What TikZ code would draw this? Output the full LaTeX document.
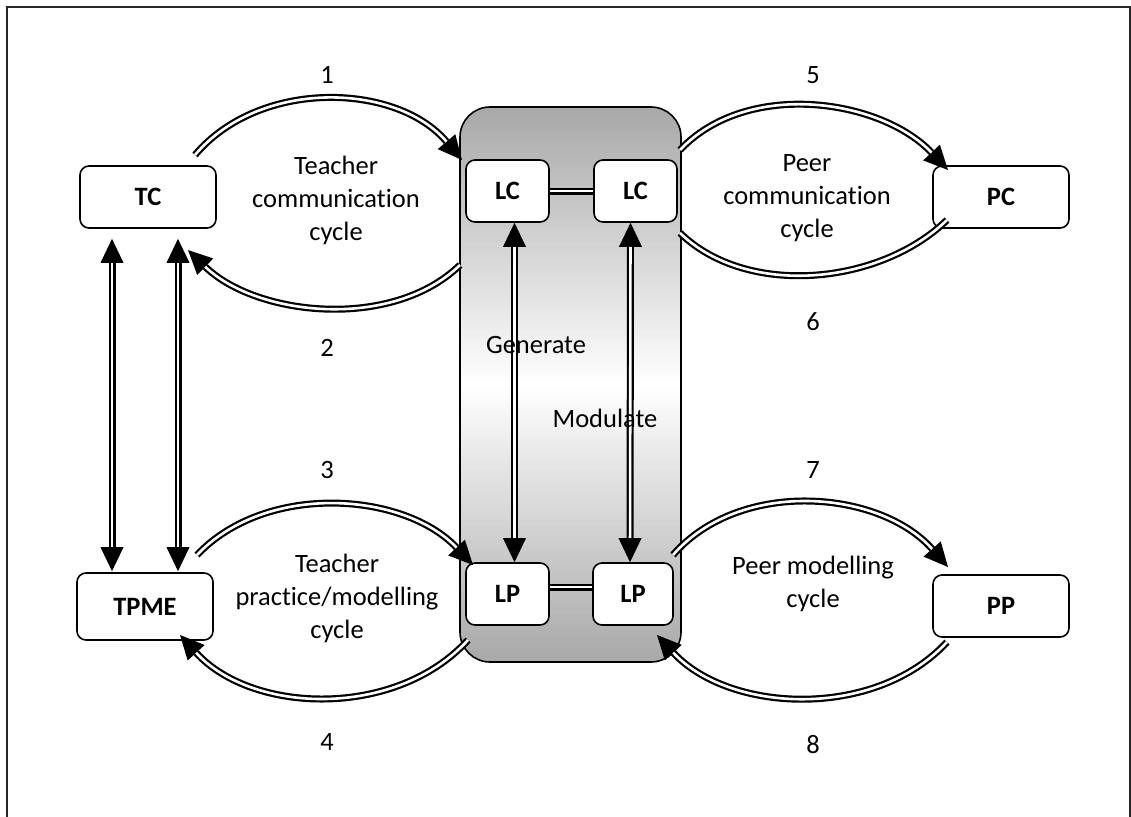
\documentclass[tikz,border=0pt]{standalone}
\usepackage{fontspec}
\setmainfont[Ligatures=NoCommon]{Carlito}
\usetikzlibrary{arrows.meta}
\newcommand\dblTip{Triangle[width=23pt,length=24pt,line width=0pt]}
\newcommand\connA[1]{\draw[dout,-{\dblTip}] #1; \draw[din,shorten >=24pt] #1;}
\newcommand\connB[1]{\draw[dout,{\dblTip}-{\dblTip}] #1; \draw[din,shorten >=24pt,shorten <=24pt] #1;}
\newcommand\connN[1]{\draw[dout] #1; \draw[din] #1;}
\begin{document}
\begin{tikzpicture}[x=1pt,y=-1pt,
  box/.style={draw, line width=1.6pt, rounded corners=9pt, fill=white,
    minimum width=136pt, minimum height=62pt, inner sep=0pt,
    font=\fontsize{26.5}{30}\selectfont\bfseries},
  sbox/.style={box, minimum width=83pt},
  lbl/.style={font=\fontsize{26.5}{33}\selectfont, align=center, inner sep=0pt},
  dout/.style={line width=7pt, draw=black},
  din/.style={line width=2.6pt, draw=white}]
\useasboundingbox (0,0) rectangle (1131,816);
\draw[line width=2.2pt, black!85] (7,7) rectangle (1130,830);

% learner block
\node[draw, line width=1.6pt, rounded corners=30pt, minimum width=221pt, minimum height=555pt,
  top color=black!34, bottom color=black!34, middle color=white, inner sep=0pt] (LB) at (570.5,384.5) {};

% nodes
\node[box] (TC) at (148,197) {TC};
\node[box, minimum height=67pt] (TPME) at (145,606.5) {TPME};
\node[box] (PC) at (1001,197) {PC};
\node[box] (PP) at (1001,606) {PP};
\node[sbox] (LC1) at (507.5,191) {LC};
\node[sbox] (LC2) at (635.5,191) {LC};
\node[sbox] (LP1) at (507.5,594) {LP};
\node[sbox, minimum width=80pt] (LP2) at (633,594) {LP};

% free ends of cycle connectors
\coordinate (a1s) at (195,155);  \coordinate (a1e) at (462,160);
\coordinate (a2s) at (460,265);  \coordinate (a2e) at (188,250);
\coordinate (a3s) at (197,555);  \coordinate (a3e) at (473,565);
\coordinate (a4s) at (468,640);  \coordinate (a4e) at (180,635);
\coordinate (a5s) at (680,150);  \coordinate (a5e) at (948,170);
\coordinate (a6s) at (947,220);  \coordinate (a6e) at (680,233);
\coordinate (a7s) at (673,555);  \coordinate (a7e) at (948,567);
\coordinate (a8s) at (947,642);  \coordinate (a8e) at (657,635);

% cycles
\connA{(a1s) .. controls (260,78) and (397,83) .. (a1e)}
\connA{(a2s) .. controls (392,331) and (256,316) .. (a2e)}
\connA{(a3s) .. controls (266,482) and (404,492) .. (a3e)}
\connA{(a4s) .. controls (396,719) and (252,714) .. (a4e)}
\connA{(a5s) .. controls (747,79) and (881,99) .. (a5e)}
\connN{(a6s) .. controls (880,285) and (747,298) .. (a6e)}
\connA{(a7s) .. controls (740,478) and (880,490) .. (a7e)}
\connA{(a8s) .. controls (875,720) and (729,713) .. (a8e)}

% links between learner boxes
\connN{(LC1.east) -- (LC2.west)}
\connN{([yshift=7pt]LP1.east) -- ([yshift=7pt]LP2.west)}
\connB{([xshift=7pt]LC1.south) -- ([xshift=7pt]LP1.north)}
\connB{([xshift=-5pt]LC2.south) -- ([xshift=-3pt]LP2.north)}

% teacher links
\connB{([shift={(-36,10)}]TC.south) -- ([shift={(-33,-1)}]TPME.north)}
\connB{([shift={(30,10)}]TC.south) -- ([shift={(33,-1)}]TPME.north)}

% labels
\node[lbl] (n1) at (327,75) {1};
\node[lbl] (n2) at (327,348) {2};
\node[lbl] (n3) at (327,470) {3};
\node[lbl] (n4) at (327,742) {4};
\node[lbl] (n5) at (813,75) {5};
\node[lbl] (n6) at (813,322) {6};
\node[lbl] (n7) at (813,470) {7};
\node[lbl] (n8) at (813,745) {8};
\node[lbl] (tcc) at (336,200) {Teacher\\communication\\cycle};
\node[lbl] (pcc) at (807,198) {Peer\\communication\\cycle};
\node[lbl] (tpc) at (337,598) {Teacher\\practice/modelling\\cycle};
\node[lbl] (pmc) at (813,584) {Peer modelling\\cycle};
\node[lbl] (gen) at (536,345) {Generate};
\node[lbl] (mod) at (605,418) {Modulate};
\end{tikzpicture}
\end{document}
